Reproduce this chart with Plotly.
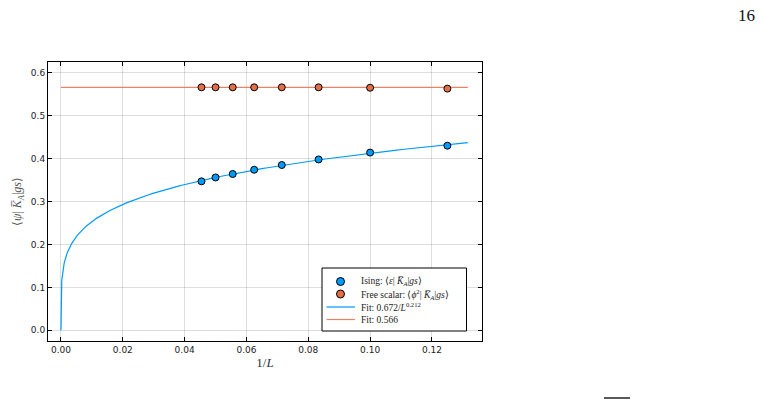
import numpy as np
import plotly.graph_objects as go

# Data
L_values = [22, 20, 18, 16, 14, 12, 10, 8]
ising_vals = [0.347, 0.356, 0.364, 0.374, 0.385, 0.398, 0.414, 0.430]
free_vals = [0.566, 0.566, 0.566, 0.566, 0.566, 0.566, 0.565, 0.563]
fit_amp = 0.672
fit_exp = 0.212
fit_const = 0.566
fit_xmax = 0.1316
x_ticks = [0.00, 0.02, 0.04, 0.06, 0.08, 0.10, 0.12]
y_ticks = [0.0, 0.1, 0.2, 0.3, 0.4, 0.5, 0.6]
legend_labels = [
    "Ising: ⟨<i>ε</i>| <i>K̅</i><sub><i>A</i></sub>|<i>gs</i>⟩",
    "Free scalar: ⟨<i>ϕ</i><sup>2</sup>| <i>K̅</i><sub><i>A</i></sub>|<i>gs</i>⟩",
    "Fit: 0.672/<i>L</i><sup>0.212</sup>",
    "Fit: 0.566",
]

inv_L = [1.0 / L for L in L_values]
x_fit = np.concatenate([[0.0], np.geomspace(1e-7, fit_xmax, 500)])
y_fit = fit_amp * x_fit ** fit_exp

BLUE = "#009AFA"
ORANGE = "#E26F46"
ORANGE_LINE = "#E8836A"
SERIF = "Liberation Serif"
SANS = "DejaVu Sans"

# plot-area geometry (pixels)
W, H = 764, 400
PL, PR, PT, PB = 48, 482, 62, 341


def px(x):
    return (x - PL) / (PR - PL)


def py(y):
    return (PB - y) / (PB - PT)


fig = go.Figure()
fig.add_trace(go.Scatter(
    x=x_fit, y=y_fit, mode="lines", line=dict(color=BLUE, width=1.2),
    name=legend_labels[2], showlegend=False))
fig.add_trace(go.Scatter(
    x=[0.0, fit_xmax], y=[fit_const, fit_const], mode="lines",
    line=dict(color=ORANGE_LINE, width=1.2),
    name=legend_labels[3], showlegend=False))
fig.add_trace(go.Scatter(
    x=inv_L, y=ising_vals, mode="markers",
    marker=dict(color=BLUE, size=7, line=dict(color="black", width=1)),
    name=legend_labels[0], showlegend=False))
fig.add_trace(go.Scatter(
    x=inv_L, y=free_vals, mode="markers",
    marker=dict(color=ORANGE, size=7, line=dict(color="black", width=1)),
    name=legend_labels[1], showlegend=False))

axis_common = dict(
    showline=True, linecolor="black", linewidth=1, mirror="ticks",
    ticks="inside", ticklen=4, tickcolor="black",
    showgrid=True, gridcolor="rgba(0,0,0,0.13)", gridwidth=1,
    zeroline=False, tickfont=dict(family=SANS, size=9, color="#222"),
)

fig.update_xaxes(**axis_common, range=[-0.0042, 0.1362], tickvals=x_ticks,
                 ticktext=[f"{v:.2f}" for v in x_ticks],
                 title=dict(text="1/<i>L</i>", font=dict(family=SERIF, size=13, color="#333"), standoff=2))
fig.update_yaxes(**axis_common, range=[-0.025, 0.625], tickvals=y_ticks,
                 ticktext=[f"{v:.1f}" for v in y_ticks],
                 title=dict(text="⟨<i>ψ</i>| <i>K̅</i><sub><i>A</i></sub>|<i>gs</i>⟩",
                            font=dict(family=SERIF, size=12, color="#555"), standoff=6))

# custom compact legend
shapes = [dict(type="rect", xref="paper", yref="paper",
               x0=px(322), x1=px(466.5), y0=py(331), y1=py(268),
               line=dict(color="black", width=1), fillcolor="white", layer="above")]
row_y = [281.5, 294, 307, 319.5]
annotations = []
for yy, col in zip(row_y[:2], [BLUE, ORANGE]):
    r = 4
    shapes.append(dict(type="circle", xref="paper", yref="paper",
                       x0=px(340.5 - r), x1=px(340.5 + r), y0=py(yy + r), y1=py(yy - r),
                       line=dict(color="black", width=1), fillcolor=col, layer="above"))
for yy, col in zip(row_y[2:], [BLUE, ORANGE_LINE]):
    shapes.append(dict(type="line", xref="paper", yref="paper",
                       x0=px(326.5), x1=px(355), y0=py(yy), y1=py(yy),
                       line=dict(color=col, width=1.2), layer="above"))
for yy, lab in zip(row_y, legend_labels):
    annotations.append(dict(text=lab, xref="paper", yref="paper", x=px(359), y=py(yy),
                            xanchor="left", yanchor="middle", showarrow=False,
                            font=dict(family=SERIF, size=9.5, color="#222")))

annotations.append(dict(text="16", xref="paper", yref="paper", x=px(757), y=py(15),
                        xanchor="right", yanchor="middle", showarrow=False,
                        font=dict(family=SERIF, size=17, color="#111")))
shapes.append(dict(type="line", xref="paper", yref="paper",
                   x0=px(604), x1=px(630), y0=py(398), y1=py(398),
                   line=dict(color="#222", width=1.5)))

fig.update_layout(
    width=W, height=H,
    margin=dict(l=PL, r=W - PR, t=PT, b=H - PB),
    paper_bgcolor="white", plot_bgcolor="white",
    showlegend=False,
    annotations=annotations,
    shapes=shapes,
)

fig.write_html("out.html")
